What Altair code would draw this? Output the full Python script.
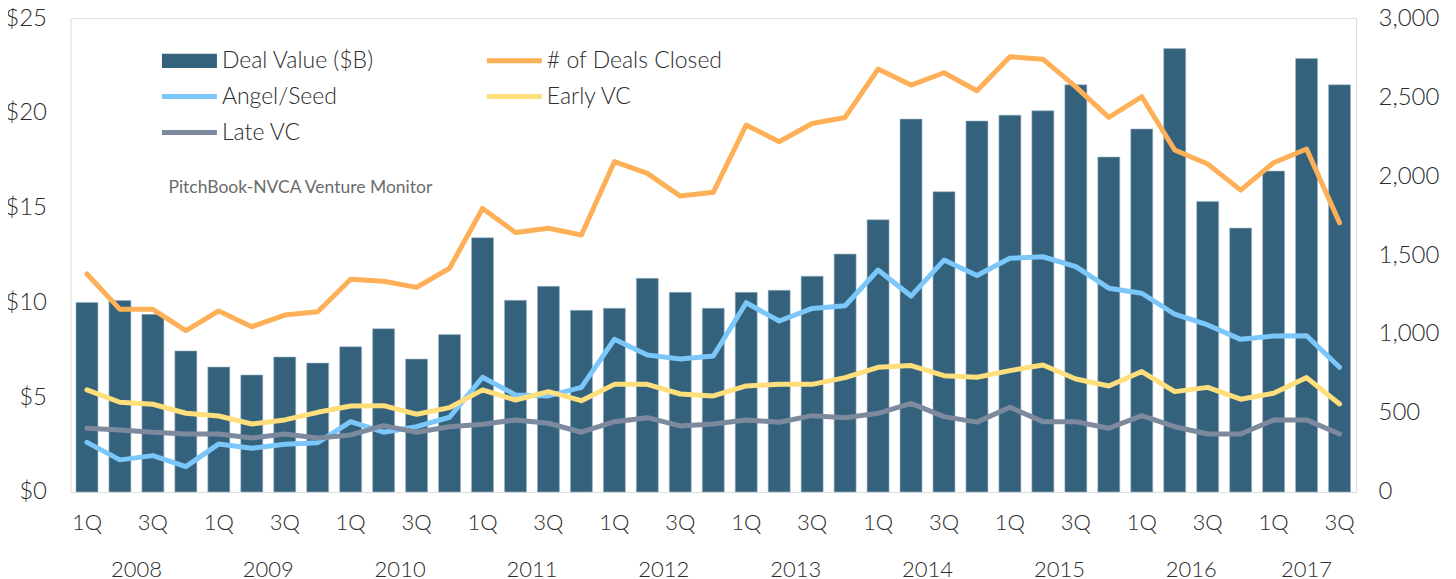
import altair as alt
import pandas as pd

years = [str(y) for y in range(2008, 2018)]
quarters = ["1Q", "2Q", "3Q", "4Q"]
periods = [f"{y}-{q}" for y in years for q in quarters][:39]

deal_value = [10.0, 10.1, 9.37, 7.44, 6.59, 6.17, 7.12, 6.8, 7.66, 8.61, 7.01, 8.3,
              13.41, 10.11, 10.85, 9.58, 9.69, 11.27, 10.53, 9.69, 10.53, 10.64, 11.38, 12.55,
              14.36, 19.67, 15.84, 19.57, 19.88, 20.11, 21.48, 17.67, 19.15, 23.4, 15.33, 13.92,
              16.93, 22.87, 21.48]
deals_closed = [1380, 1156, 1156, 1021, 1146, 1046, 1120, 1141, 1347, 1334, 1295, 1416,
                1795, 1643, 1669, 1627, 2091, 2017, 1873, 1897, 2323, 2217, 2333, 2371,
                2677, 2576, 2654, 2540, 2755, 2740, 2565, 2371, 2502, 2165, 2076, 1911,
                2084, 2171, 1704]
angel_seed = [314, 203, 230, 160, 304, 276, 302, 312, 445, 378, 413, 473,
              726, 614, 608, 662, 966, 867, 842, 861, 1198, 1082, 1162, 1179,
              1405, 1240, 1468, 1370, 1479, 1489, 1426, 1290, 1258, 1125, 1057, 966,
              987, 989, 789]
early_vc = [646, 568, 555, 498, 481, 430, 456, 504, 544, 546, 492, 534,
            646, 582, 635, 578, 681, 681, 620, 608, 671, 681, 681, 724,
            789, 800, 736, 726, 768, 804, 715, 671, 762, 635, 662, 587,
            625, 724, 557]
late_vc = [403, 392, 378, 367, 367, 342, 367, 342, 361, 420, 378, 413,
           428, 456, 435, 378, 445, 470, 418, 430, 456, 441, 483, 470,
           498, 561, 477, 442, 536, 445, 445, 403, 483, 413, 367, 367,
           456, 456, 367]

# legend order (laid out column by column: 3 rows x 2 columns)
legend_names = ["Deal Value ($B)", "Angel/Seed", "Late VC", "# of Deals Closed", "Early VC"]
legend_colors = ["#34627D", "#7CC7F9", "#7D8A9E", "#FDB058", "#FFDF7B"]

FONT = "Lato"
FW = 300
TXT = "#2b2b2b"

bars_df = pd.DataFrame({"period": periods, "value": deal_value, "series": "Deal Value ($B)"})
lines_df = pd.concat([
    pd.DataFrame({"period": periods, "count": vals, "series": name})
    for name, vals in zip(["# of Deals Closed", "Angel/Seed", "Early VC", "Late VC"],
                          [deals_closed, angel_seed, early_vc, late_vc])
])

is_bar = "datum.value === 'Deal Value ($B)'"
color = alt.Color(
    "series:N",
    scale=alt.Scale(domain=legend_names, range=legend_colors),
    legend=alt.Legend(
        title=None, orient="none", legendX=107.5, legendY=31, columns=2,
        columnPadding=102, rowPadding=12, padding=0,
        labelFont=FONT, labelFontSize=23, labelFontWeight=FW, labelColor=TXT,
        labelLimit=400, labelOffset=21,
        symbolSize=3025,
        symbolType={"expr": f"{is_bar} ? 'M-1,-0.26H1V0.26H-1Z' : 'M-1,0H1'"},
        symbolFillColor={"expr": f"{is_bar} ? '#34627D' : 'transparent'"},
        symbolStrokeColor={"expr": "scale('color', datum.value)"},
        symbolStrokeWidth={"expr": f"{is_bar} ? 0 : 5"},
        symbolOpacity=1,
    ),
)

x_main = alt.X(
    "period:N", sort=periods, title=None,
    scale=alt.Scale(paddingInner=0.333, paddingOuter=0.1667),
    axis=alt.Axis(orient="bottom", labelExpr="split(datum.value, '-')[1] == '1Q' || split(datum.value, '-')[1] == '3Q' ? split(datum.value, '-')[1] : ''",
                  labelAngle=0, domain=False, ticks=False, labelPadding=21,
                  labelFont=FONT, labelFontSize=22, labelFontWeight=FW, labelColor=TXT, labelOverlap=False),
)
x_year = alt.X(
    "period:N", sort=periods, title=None,
    axis=alt.Axis(orient="bottom", labelExpr="split(datum.value, '-')[1] == '2Q' ? split(datum.value, '-')[0] : ''",
                  labelAngle=0, domain=False, ticks=False, labelPadding=68,
                  labelOffset={"expr": "datum.value == '2017-2Q' ? 0 : 16.5"},
                  labelFont=FONT, labelFontSize=22, labelFontWeight=FW, labelColor=TXT, labelOverlap=False),
)

bars = alt.Chart(bars_df).mark_bar(stroke="#9fb6c6", strokeWidth=0.6).encode(
    x=x_main,
    y=alt.Y("value:Q", title=None,
            scale=alt.Scale(domain=[0, 25]),
            axis=alt.Axis(values=[0, 5, 10, 15, 20, 25], labelExpr="'$' + datum.value",
                          domain=False, ticks=False, grid=False, labelPadding=24,
                          labelFont=FONT, labelFontSize=24, labelFontWeight=FW, labelColor=TXT)),
    color=color,
)

lines = alt.Chart(lines_df).mark_line(strokeWidth=5, strokeCap="round", strokeJoin="round").encode(
    x=x_year,
    y=alt.Y("count:Q", title=None,
            scale=alt.Scale(domain=[0, 3000]),
            axis=alt.Axis(orient="right", values=[0, 500, 1000, 1500, 2000, 2500, 3000],
                          labelExpr="format(datum.value, ',')",
                          domain=False, ticks=False, grid=False, labelPadding=22,
                          labelFont=FONT, labelFontSize=24, labelFontWeight=FW, labelColor=TXT)),
    color=color,
)

chart = alt.layer(bars, lines).resolve_scale(y="independent").resolve_axis(x="independent").properties(
    width=1286, height=474,
    autosize=alt.AutoSizeParams(type="none"),
    padding={"left": 62.5, "top": 10, "right": 92, "bottom": 90},
    title=alt.TitleParams(
        "PitchBook-NVCA Venture Monitor", anchor="start", frame="group", orient="top",
        offset=0, dx=98, dy=204, baseline="alphabetic",
        font=FONT, fontSize=17.5, fontWeight="normal", color="#6b6b6b",
    ),
).configure_view(stroke=None).configure(font=FONT)

chart.save("out.html", embed_options={"renderer": "svg", "actions": False})
